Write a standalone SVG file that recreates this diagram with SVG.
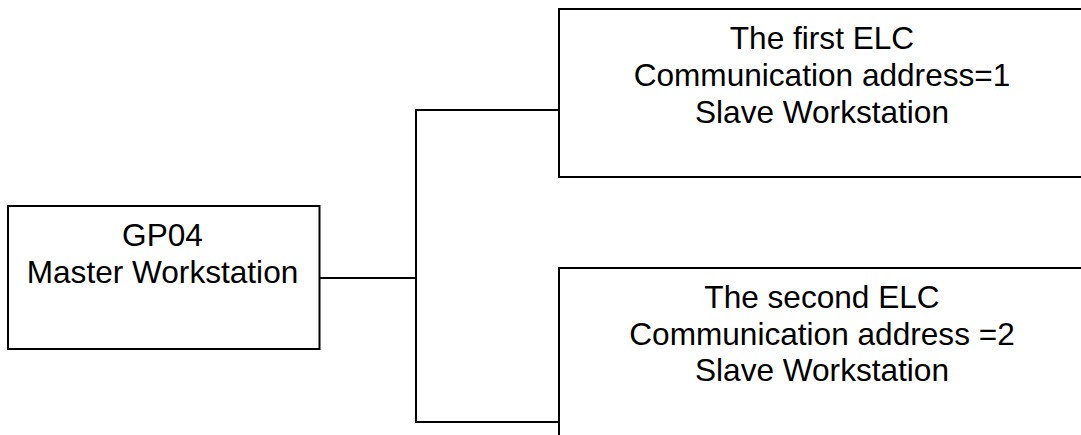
<svg xmlns="http://www.w3.org/2000/svg" width="1081" height="435" viewBox="0 0 1081 435">
  <style>
    .box { fill: #ffffff; stroke: #000000; stroke-width: 2; }
    .conn { fill: none; stroke: #000000; stroke-width: 2; }
    .lbl { font-family: "Liberation Sans", Arial, sans-serif; font-size: 31.6px; fill: #000000; text-anchor: middle; }
  </style>
  <rect x="0" y="0" width="1081" height="435" fill="#ffffff"/>
  <g id="connectors">
    <polyline class="conn" points="319.5,278 416,278"/>
    <polyline class="conn" points="559,110 416,110 416,422 559,422"/>
  </g>
  <g id="master">
    <rect class="box" x="8" y="206" width="311.5" height="143"/>
    <text class="lbl" x="162.5" y="246">GP04</text>
    <text class="lbl" x="162.5" y="282.5">Master Workstation</text>
  </g>
  <g id="slave1">
    <rect class="box" x="559" y="9" width="530" height="168"/>
    <text class="lbl" x="822" y="48.5">The first ELC</text>
    <text class="lbl" x="822" y="86">Communication address=1</text>
    <text class="lbl" x="822" y="122.7">Slave Workstation</text>
  </g>
  <g id="slave2">
    <rect class="box" x="559" y="268" width="530" height="200"/>
    <text class="lbl" x="822" y="308.3">The second ELC</text>
    <text class="lbl" x="822" y="344.5">Communication address =2</text>
    <text class="lbl" x="822" y="381">Slave Workstation</text>
  </g>
</svg>
